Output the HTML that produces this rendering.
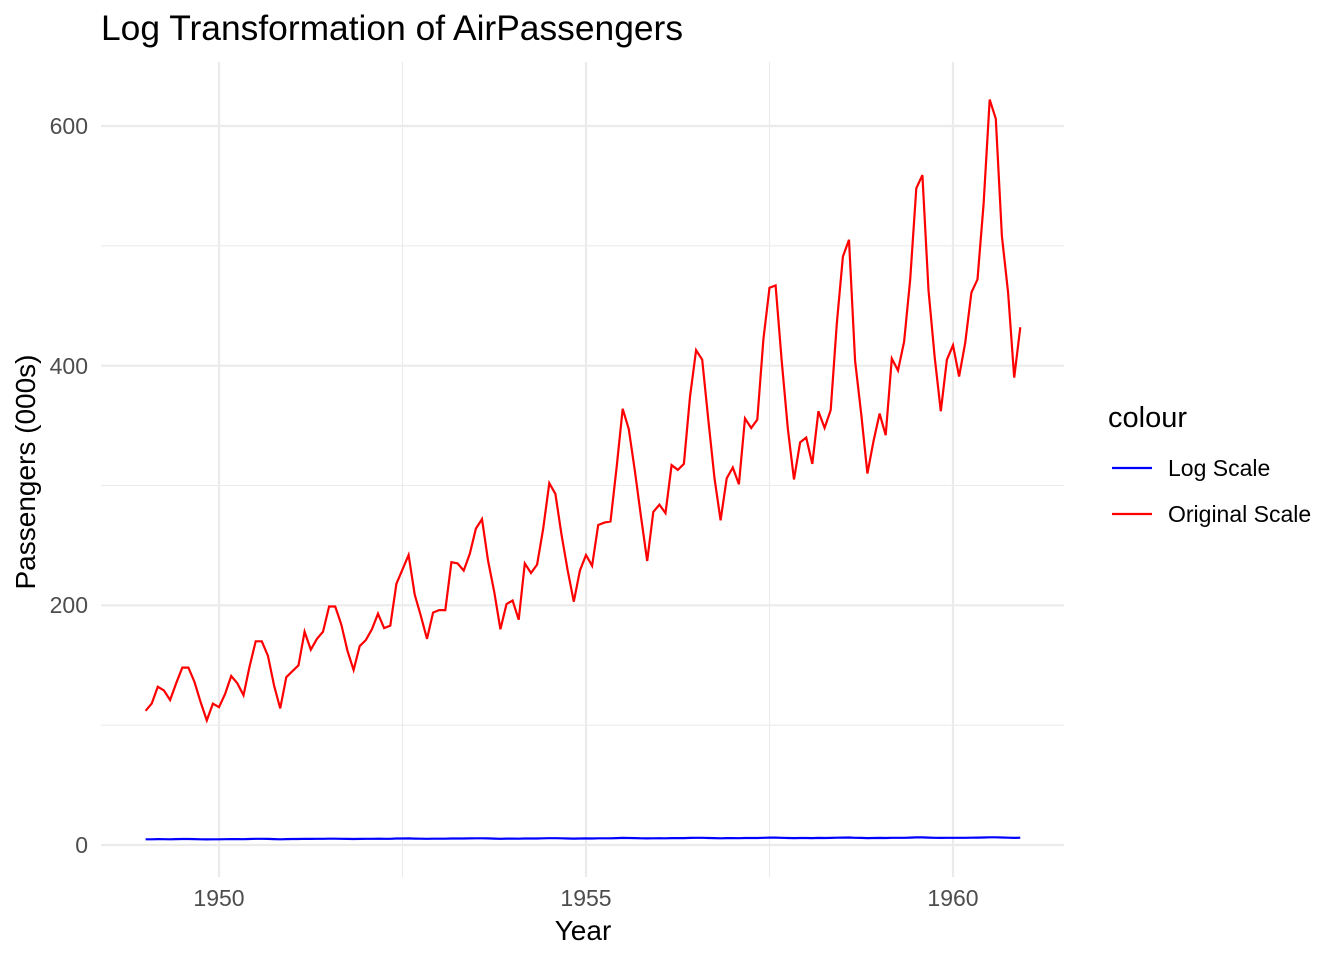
<!DOCTYPE html>
<html><head><meta charset="utf-8"><style>body{margin:0;background:#fff}svg{display:block}</style></head>
<body>
<svg id="s" width="1344" height="960" xmlns="http://www.w3.org/2000/svg" font-family="Liberation Sans, sans-serif">
<rect width="1344" height="960" fill="#fff"/>
<g id="grid"></g>
<path id="red" fill="none" stroke="#ff0000" stroke-width="2.2"/>
<path id="blue" fill="none" stroke="#0000ff" stroke-width="2.2"/>
<text x="101" y="40" font-size="35" fill="#000" textLength="582" lengthAdjust="spacingAndGlyphs">Log Transformation of AirPassengers</text>
<g font-size="23" fill="#4d4d4d" text-anchor="end">
<text x="88" y="853">0</text><text x="88" y="613">200</text><text x="88" y="374">400</text><text x="88" y="134">600</text>
</g>
<g font-size="23" fill="#4d4d4d" text-anchor="middle">
<text x="219" y="906">1950</text><text x="586" y="906">1955</text><text x="953" y="906">1960</text>
</g>
<text x="583" y="940" font-size="28" text-anchor="middle">Year</text>
<text transform="translate(35,472) rotate(-90)" font-size="28" text-anchor="middle">Passengers (000s)</text>
<text x="1108" y="427" font-size="29">colour</text>
<line x1="1112" y1="468" x2="1152" y2="468" stroke="#0000ff" stroke-width="2.2"/>
<line x1="1112" y1="514" x2="1152" y2="514" stroke="#ff0000" stroke-width="2.2"/>
<text x="1168" y="476" font-size="23">Log Scale</text>
<text x="1168" y="522" font-size="23">Original Scale</text>
</svg>
<script>
var d=[112,118,132,129,121,135,148,148,136,119,104,118,115,126,141,135,125,149,170,170,158,133,114,140,145,150,178,163,172,178,199,199,184,162,146,166,171,180,193,181,183,218,230,242,209,191,172,194,196,196,236,235,229,243,264,272,237,211,180,201,204,188,235,227,234,264,302,293,259,229,203,229,242,233,267,269,270,315,364,347,312,274,237,278,284,277,317,313,318,374,413,405,355,306,271,306,315,301,356,348,355,422,465,467,404,347,305,336,340,318,362,348,363,435,491,505,404,359,310,337,360,342,406,396,420,472,548,559,463,407,362,405,417,391,419,461,472,535,622,606,508,461,390,432];
function X(t){return 219+(t-1950)*73.4}function Y(v){return 845-v*719/600}
var r="",b="";d.forEach(function(v,i){var t=1949+i/12;r+=(i?"L":"M")+X(t).toFixed(1)+","+Y(v).toFixed(1);b+=(i?"L":"M")+X(t).toFixed(1)+","+Y(Math.log(v)).toFixed(1)});
document.getElementById("red").setAttribute("d",r);document.getElementById("blue").setAttribute("d",b);
var g="";[100,300,500].forEach(function(v){g+='<line x1="101" x2="1064" y1="'+Y(v)+'" y2="'+Y(v)+'" stroke="#ebebeb" stroke-width="1.1"/>'});
[1952.5,1957.5].forEach(function(t){g+='<line y1="62" y2="877" x1="'+X(t)+'" x2="'+X(t)+'" stroke="#ebebeb" stroke-width="1.1"/>'});
[0,200,400,600].forEach(function(v){g+='<line x1="101" x2="1064" y1="'+Y(v)+'" y2="'+Y(v)+'" stroke="#ebebeb" stroke-width="2.2"/>'});
[1950,1955,1960].forEach(function(t){g+='<line y1="62" y2="877" x1="'+X(t)+'" x2="'+X(t)+'" stroke="#ebebeb" stroke-width="2.2"/>'});
document.getElementById("grid").innerHTML=g;
</script>
</body></html>
